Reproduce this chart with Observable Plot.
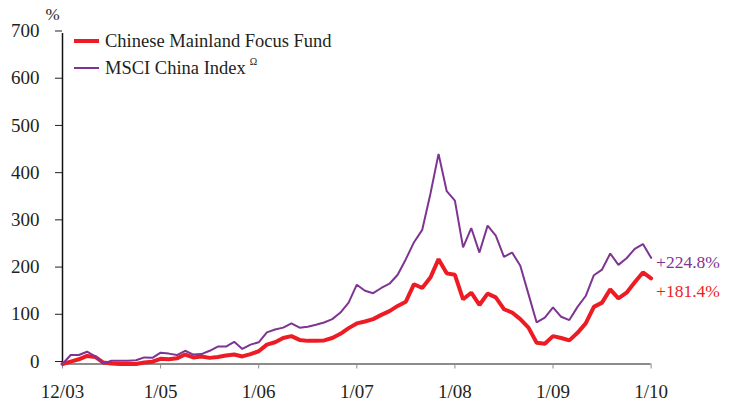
<!DOCTYPE html>
<html><head><meta charset="utf-8">
<script src="https://cdn.jsdelivr.net/npm/d3@7"></script>
<script src="https://cdn.jsdelivr.net/npm/@observablehq/plot@0.6"></script>
<style>
html,body{margin:0;padding:0;background:#fff;}
#chart{width:730px;height:401px;}
#chart svg, #chart svg text {font-family: "Liberation Serif", "Times New Roman", serif !important;}
</style></head><body><div id="chart"></div>
<script>
// Monthly cumulative return (%) from 12/03 (index 0) to 12/09 (index 72)
const fundValues = [0,5,10,17,15,3,1,0,0,0,3,5,11,10,12,20,14,16,13,15,18,20,16,21,27,41,46,55,59,51,49,49,50,55,64,76,86,90,95,104,112,123,132,169,161,183,222,192,189,137,151,125,149,141,116,109,95,77,45,43,59,55,50,66,86,121,130,158,139,151,173,194,181.4];
const msciValues = [0,19,19,26,16,1,7,7,7,8,14,13,24,22,19,28,20,21,28,37,37,47,32,41,46,67,73,77,86,77,79,83,88,95,109,130,168,155,150,161,170,189,222,258,284,360,445,366,346,247,288,236,293,272,227,236,208,148,88,98,120,100,93,121,144,188,200,234,210,224,244,254,224.8];
const seriesNames = ["Chinese Mainland Focus Fund", "MSCI China Index"];
const seriesColors = ["#ed1c24", "#7e3592"];
const endLabels = ["+181.4%", "+224.8%"];
const xTickIndex = [0,12,24,36,48,60,72];
const xTickLabels = ["12/03","1/05","1/06","1/07","1/08","1/09","1/10"];
const yTicks = [0,100,200,300,400,500,600,700];

const fund = fundValues.map((v,i)=>({i, v}));
const msci = msciValues.map((v,i)=>({i, v}));
const last = fund.length - 1;

function legend(index, scales, values, dims) {
  const g = d3.create("svg:g")
    .attr("font-family", "Liberation Serif, Times New Roman, serif")
    .attr("text-anchor", "start");
  const L = dims.marginLeft;
  const items = [
    {color: seriesColors[0], w: 4, y: 41, text: seriesNames[0], sup: null},
    {color: seriesColors[1], w: 2, y: 68, text: seriesNames[1], sup: "Ω"}
  ];
  for (const it of items) {
    g.append("line").attr("x1", L + 12).attr("x2", L + 37).attr("y1", it.y).attr("y2", it.y)
      .attr("stroke", it.color).attr("stroke-width", it.w);
    const t = g.append("text").attr("x", L + 43).attr("y", it.y + 6).attr("font-size", 18.5)
      .attr("text-anchor", "start").attr("fill", "#231f20").text(it.text);
    if (it.sup) t.append("tspan").attr("dx", 4).attr("dy", -9).attr("font-size", 10).text(it.sup);
  }
  g.append("text").attr("x", L - 16.5).attr("y", 20).attr("font-size", 17)
    .attr("text-anchor", "start").attr("fill", "#231f20").text("%");
  return g.node();
}

const chart = Plot.plot({
  width: 730,
  height: 401,
  marginLeft: 62,
  marginRight: 79.4,
  marginTop: 33,
  marginBottom: 37.5,
  style: {fontFamily: "'Liberation Serif', 'Times New Roman', serif", fontSize: "19px", color: "#231f20", background: "#fff"},
  x: {domain: [0, 72]},
  y: {domain: [0, 700]},
  marks: [
    Plot.ruleY([0], {stroke: "#8c8c8c", strokeWidth: 2}),
    Plot.axisX({ticks: xTickIndex, tickFormat: d => xTickLabels[xTickIndex.indexOf(d)], tickSize: 5, tickPadding: 15, fontSize: 19, stroke: "#8c8c8c", fill: "#231f20", label: null}),
    Plot.axisY({ticks: yTicks, tickSize: 7, tickPadding: 16, fontSize: 19, dy: -2.5, stroke: "#231f20", fill: "#231f20", label: null}),
    Plot.ruleX([0], {stroke: "#111", strokeWidth: 1.5}),
    Plot.line(fund, {x: "i", y: "v", stroke: seriesColors[0], strokeWidth: 4, strokeLinejoin: "miter"}),
    Plot.line(msci, {x: "i", y: "v", stroke: seriesColors[1], strokeWidth: 2, strokeLinejoin: "miter"}),
    Plot.text([msci[last]], {x: "i", y: "v", text: () => endLabels[1], fill: seriesColors[1], textAnchor: "start", dx: 5, dy: 5, fontSize: 17.5}),
    Plot.text([fund[last]], {x: "i", y: "v", text: () => endLabels[0], fill: seriesColors[0], textAnchor: "start", dx: 5, dy: 13, fontSize: 17.5}),
    legend
  ]
});
document.getElementById("chart").appendChild(chart);
</script></body></html>
